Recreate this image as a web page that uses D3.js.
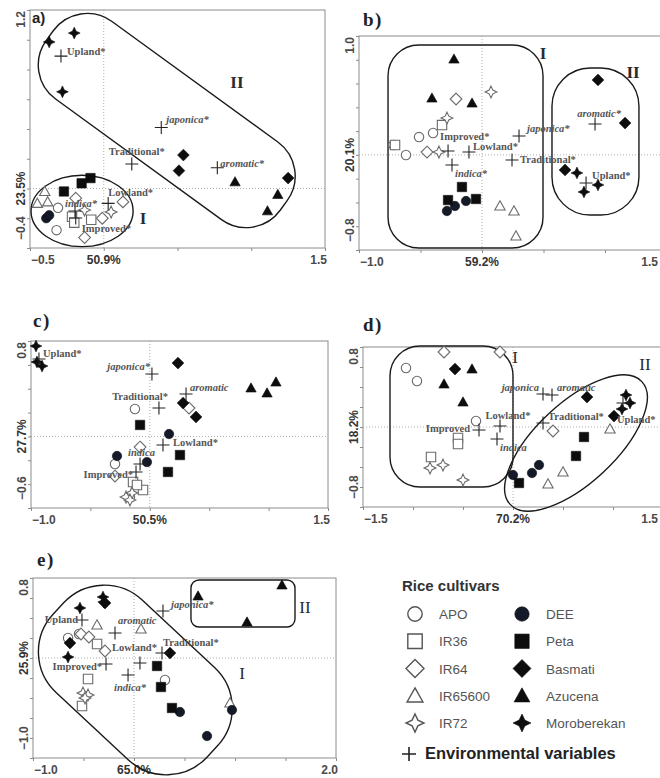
<!DOCTYPE html>
<html>
<head>
<meta charset="utf-8">
<script src="https://cdn.jsdelivr.net/npm/d3@7"></script>
<style>
  body { margin: 0; background: #fff; }
  svg { display: block; }
</style>
</head>
<body>
<svg id="fig" width="660" height="778"></svg>
<script>
// cultivars, open ones first, then the filled ones
const cultivars = ['APO', 'IR36', 'IR64', 'IR65600', 'IR72', 'DEE', 'Peta', 'Basmati', 'Azucena', 'Moroberekan'];

// ---- panel a ----
const pointsA = [
  ['APO', -0.31, -0.13], ['APO', -0.32, -0.28],
  ['IR36', -0.215, -0.19], ['IR36', -0.2, -0.23], ['IR36', -0.085, -0.21],
  ['IR64', -0.19, -0.065], ['IR64', -0.01, -0.2], ['IR64', 0.13, -0.09], ['IR64', -0.13, -0.33],
  ['IR65600', -0.40, -0.02], ['IR65600', -0.45, -0.10], ['IR65600', -0.38, -0.09],
  ['IR72', -0.13, -0.145], ['IR72', 0.05, -0.158],
  ['DEE', -0.39, -0.2], ['DEE', -0.37, -0.18],
  ['Peta', -0.27, -0.02], ['Peta', -0.15, 0.035], ['Peta', -0.09, 0.07],
  ['Basmati', 0.54, 0.225], ['Basmati', 0.51, 0.12], ['Basmati', 1.25, 0.07],
  ['Azucena', 0.89, 0.045], ['Azucena', 1.18, -0.04], ['Azucena', 1.11, -0.15],
  ['Moroberekan', -0.37, 0.985], ['Moroberekan', -0.20, 1.045], ['Moroberekan', -0.28, 0.65]
];
const envA = [
  ['Upland*', -0.29, 0.89], ['japonica*', 0.39, 0.41], ['Traditional*', 0.19, 0.165],
  ['aromatic*', 0.77, 0.14], ['Lowland*', 0.03, -0.10], ['indica*', -0.195, -0.151],
  ['Improved*', -0.19, -0.198]
];

// ---- panel b ----
const pointsB = [
  ['APO', -0.398, 0.184], ['APO', -0.512, 0.15], ['APO', -0.618, -0.001], ['APO', -0.72, 0.083],
  ['IR36', -0.325, 0.251], ['IR36', -0.707, 0.083],
  ['IR64', -0.211, 0.47], ['IR64', -0.447, 0.024],
  ['IR65600', 0.146, -0.43], ['IR65600', 0.26, -0.472], ['IR65600', 0.276, -0.682],
  ['IR72', 0.073, 0.529], ['IR72', -0.285, 0.31], ['IR72', -0.35, 0.024],
  ['DEE', -0.285, -0.472], ['DEE', -0.22, -0.43], ['DEE', -0.13, -0.388],
  ['Peta', -0.163, -0.27], ['Peta', -0.276, -0.38], ['Peta', -0.049, -0.371],
  ['Basmati', 0.943, 0.63], ['Basmati', 1.163, 0.268], ['Basmati', 0.675, -0.127],
  ['Azucena', -0.228, 0.806], ['Azucena', -0.407, 0.478], ['Azucena', -0.081, 0.436],
  ['Moroberekan', 0.772, -0.152], ['Moroberekan', 0.829, -0.312], ['Moroberekan', 0.943, -0.253]
];
const envB = [
  ['Improved*', -0.276, 0.033], ['Lowland*', -0.106, 0.024], ['japonica*', 0.301, 0.159],
  ['Traditional*', 0.244, -0.043], ['indica*', -0.244, -0.085], ['aromatic*', 0.919, 0.26],
  ['Upland*', 0.846, -0.236]
];

// ---- panel c ----
const pointsC = [
  ['APO', -0.125, 0.23], ['APO', -0.293, -0.231], ['APO', -0.167, -0.508],
  ['IR36', -0.141, -0.382], ['IR36', -0.057, -0.449], ['IR36', -0.108, -0.407],
  ['IR64', 0.33, 0.238], ['IR64', -0.082, -0.089], ['IR64', -0.293, -0.332],
  ['IR72', -0.2, -0.508], ['IR72', -0.15, -0.474], ['IR72', -0.167, -0.533],
  ['DEE', 0.162, 0.02], ['DEE', -0.276, -0.164], ['DEE', -0.024, -0.215],
  ['Peta', -0.082, 0.096], ['Peta', 0.254, -0.156], ['Peta', 0.153, -0.298],
  ['Basmati', 0.237, 0.615], ['Basmati', 0.28, 0.28], ['Basmati', 0.389, 0.163],
  ['Azucena', 0.852, 0.406], ['Azucena', 0.987, 0.364], ['Azucena', 1.062, 0.456],
  ['Moroberekan', -0.958, 0.758], ['Moroberekan', -0.95, 0.624], ['Moroberekan', -0.907, 0.59]
];
const envC = [
  ['Upland*', -0.933, 0.649], ['japonica*', 0.018, 0.523], ['aromatic', 0.305, 0.356],
  ['Traditional*', 0.077, 0.238], ['Lowland*', 0.111, -0.072], ['indica', -0.082, -0.231],
  ['Improved*', -0.116, -0.298]
];

// ---- panel d ----
const pointsD = [
  ['APO', -1.07, 0.59], ['APO', -0.96, 0.46], ['APO', -0.37, 0.06],
  ['IR36', -0.55, -0.11], ['IR36', -0.55, -0.17], ['IR36', -0.82, -0.3],
  ['IR64', -0.69, 0.75], ['IR64', -0.13, 0.75], ['IR64', 0.4, -0.04],
  ['IR65600', 0.97, -0.02], ['IR65600', 0.5, -0.45], ['IR65600', 0.35, -0.57],
  ['IR72', -0.83, -0.41], ['IR72', -0.7, -0.38], ['IR72', -0.5, -0.53],
  ['DEE', 0.0, -0.48], ['DEE', 0.19, -0.46], ['DEE', 0.26, -0.38],
  ['Peta', 0.71, -0.1], ['Peta', 0.63, -0.29], ['Peta', 0.06, -0.56],
  ['Basmati', -0.58, 0.58], ['Basmati', 0.74, 0.3], ['Basmati', 1.01, 0.11],
  ['Azucena', -0.41, 0.58], ['Azucena', -0.69, 0.43], ['Azucena', -0.5, 0.25],
  ['Moroberekan', 1.13, 0.32], ['Moroberekan', 1.17, 0.24], ['Moroberekan', 1.09, 0.18]
];
const envD = [
  ['japonica', 0.3, 0.33], ['aromatic', 0.39, 0.32], ['Lowland*', -0.13, 0.01],
  ['Improved', -0.34, -0.03], ['indica', -0.16, -0.12], ['Traditional*', 0.3, 0.04],
  ['Upland*', 1.1, 0.24]
];

// ---- panel e ----
const pointsE = [
  ['APO', -0.653, 0.2], ['APO', -0.545, 0.24], ['APO', 0.307, -0.22],
  ['IR36', -0.366, 0.14], ['IR36', -0.455, -0.21], ['IR36', -0.515, -0.48],
  ['IR64', -0.525, 0.24], ['IR64', -0.446, 0.21], ['IR64', -0.287, 0.07],
  ['IR65600', -0.366, 0.33], ['IR65600', 0.069, 0.29], ['IR65600', 0.95, -0.45],
  ['IR72', -0.505, -0.35], ['IR72', -0.455, -0.37], ['IR72', -0.485, -0.40],
  ['DEE', 0.455, -0.54], ['DEE', 0.97, -0.52], ['DEE', 0.723, -0.78],
  ['Peta', 0.228, -0.08], ['Peta', 0.267, -0.29], ['Peta', 0.376, -0.5],
  ['Basmati', -0.287, 0.55], ['Basmati', -0.634, 0.15], ['Basmati', 0.356, 0.05],
  ['Azucena', 0.634, 0.62], ['Azucena', 1.465, 0.73], ['Azucena', 1.119, 0.36],
  ['Moroberekan', -0.307, 0.61], ['Moroberekan', -0.3, 0.56], ['Moroberekan', -0.535, 0.5], ['Moroberekan', -0.653, 0.01]
];
const envE = [
  ['Upland', -0.515, 0.38], ['aromatic', -0.188, 0.25], ['japonica*', 0.287, 0.47],
  ['Traditional*', 0.277, 0.05], ['Lowland*', 0.059, -0.05], ['indica*', -0.059, -0.17],
  ['Improved*', -0.277, -0.06]
];

// axis end values and explained variance
const axisA = { x: [-0.5, 1.5], y: [-0.4, 1.2], xPct: '50.9%', yPct: '23.5%' };
const axisB = { x: [-1.0, 1.5], y: [-0.8, 1.0], xPct: '59.2%', yPct: '20.1%' };
const axisC = { x: [-1.0, 1.5], y: [-0.6, 0.8], xPct: '50.5%', yPct: '27.7%' };
const axisD = { x: [-1.5, 1.5], y: [-0.8, 0.8], xPct: '70.2%', yPct: '18.2%' };
const axisE = { x: [-1.0, 2.0], y: [-1.0, 0.8], xPct: '65.0%', yPct: '25.9%' };

// ---------- layout / styling ----------
const italicNames = ['japonica', 'indica', 'aromatic'];
const cultivarStyle = {
  APO: ['circle', false], IR36: ['square', false], IR64: ['diamond', false],
  IR65600: ['triangle', false], IR72: ['star', false],
  DEE: ['circle', true], Peta: ['square', true], Basmati: ['diamond', true],
  Azucena: ['triangle', true], Moroberekan: ['star', true]
};

// label placement per panel: dx, dy (px from the cross), anchor
const labelPos = {
  a: { 'Upland*': [6, -1, 'start'], 'japonica*': [5, -5, 'start'], 'Traditional*': [5, -9, 'middle'],
       'aromatic*': [3, -1, 'start'], 'Lowland*': [0, -7, 'start'], 'indica*': [-10, -4, 'start'],
       'Improved*': [6, 14, 'start'] },
  b: { 'Improved*': [-8, -11, 'start'], 'Lowland*': [4, -2, 'start'], 'japonica*': [8, -4, 'start'],
       'Traditional*': [8, 3, 'start'], 'indica*': [3, 12, 'start'], 'aromatic*': [4, -7, 'middle'],
       'Upland*': [6, -4, 'start'] },
  c: { 'Upland*': [4, -2, 'start'], 'japonica*': [-2, -4, 'end'], 'aromatic': [4, -3, 'start'],
       'Traditional*': [9, -8, 'end'], 'Lowland*': [10, 1, 'start'], 'indica': [-12, -8, 'start'],
       'Improved*': [-3, 6, 'end'] },
  d: { 'japonica': [-4, -3, 'end'], 'aromatic': [5, -4, 'start'], 'Lowland*': [8, -7, 'middle'],
       'Improved': [-9, 2, 'end'], 'indica': [3, 12, 'start'], 'Traditional*': [5, -3, 'start'],
       'Upland*': [-6, 20, 'start'] },
  e: { 'Upland': [-4, 3, 'end'], 'aromatic': [3, -9, 'start'], 'japonica*': [8, -3, 'start'],
       'Traditional*': [1, -7, 'start'], 'Lowland*': [17, -12, 'end'], 'indica*': [2, 16, 'middle'],
       'Improved*': [-4, 6, 'end'] }
};

// enclosing groups (data units; sizes scaled with the x scale)
const regions = {
  a: [
    { type: 'ellipse', cx: -0.147, cy: -0.151, rx: 0.346, ry: 0.242, angle: 0 },
    { type: 'capsule', cx: 0.427, cy: 0.457, len: 1.96, wid: 0.65, r: 0.285, angle: 36 }
  ],
  b: [
    { type: 'rect', x0: -0.764, x1: 0.496, y0: -0.783, y1: 0.924, r: 0.25 },
    { type: 'rect', x0: 0.569, x1: 1.276, y0: -0.506, y1: 0.731, r: 0.31 }
  ],
  c: [],
  d: [
    { type: 'rect', x0: -1.23, x1: 0.0, y0: -0.6, y1: 0.81, r: 0.3 },
    { type: 'ellipse', cx: 0.63, cy: -0.16, rx: 0.9, ry: 0.4, angle: -43 }
  ],
  e: [
    { type: 'capsule', cx: 0.013, cy: -0.22, len: 2.08, wid: 1.25, r: 0.55, angle: 43 },
    { type: 'rect', x0: 0.564, x1: 1.594, y0: 0.31, y1: 0.78, r: 0.08 }
  ]
};
const regionLabels = {
  a: [['I', 0.266, -0.2], ['II', 0.903, 0.716]],
  b: [['I', 0.496, 0.857], ['II', 1.228, 0.697]],
  c: [],
  d: [['I', 0.02, 0.7], ['II', 1.32, 0.63]],
  e: [['I', 1.07, -0.15], ['II', 1.693, 0.51]]
};

const svg = d3.select('#fig');
svg.append('rect').attr('width', 660).attr('height', 778).attr('fill', '#fff');

function symbolPath(type, s) {
  if (type === 'circle') return d3.symbol(d3.symbolCircle, Math.PI * s * s)();
  if (type === 'square') return `M${-s},${-s}H${s}V${s}H${-s}Z`;
  if (type === 'diamond') { const d = s * 1.25; return `M0,${-d}L${d},0L0,${d}L${-d},0Z`; }
  if (type === 'triangle') { const w = s * 1.1; return `M0,${-w}L${w},${w * 0.78}L${-w},${w * 0.78}Z`; }
  // four pointed star
  const t = s * 1.25, k = s * 0.4;
  return `M0,${-t}L${k},${-k}L${t},0L${k},${k}L0,${t}L${-k},${k}L${-t},0L${-k},${-k}Z`;
}

function drawPanel(key, box, axis, pts, env, tag, opts) {
  const x = d3.scaleLinear().domain(axis.x).range([box.l, box.r]);
  const y = d3.scaleLinear().domain(axis.y).range([box.b, box.t]);
  const kx = Math.abs(x(1) - x(0));
  const g = svg.append('g');

  // frame + ticks
  g.append('rect').attr('x', box.l).attr('y', box.t)
    .attr('width', box.r - box.l).attr('height', box.b - box.t)
    .attr('fill', 'none').attr('stroke', '#8c8c8c').attr('stroke-width', 1);

  const xt = d3.range(Math.ceil(axis.x[0] / 0.5) * 0.5, axis.x[1] + 1e-9, 0.5);
  const yt = d3.range(Math.ceil(axis.y[0] / 0.2 - 1e-9) * 0.2, axis.y[1] + 1e-9, 0.2);
  g.append('g').attr('transform', `translate(0,${box.b})`)
    .call(d3.axisBottom(x).tickValues(xt).tickSize(3).tickSizeOuter(0).tickFormat(''))
    .call(s => s.select('.domain').remove())
    .call(s => s.selectAll('line').attr('stroke', '#8c8c8c'));
  g.append('g').attr('transform', `translate(${box.l},0)`)
    .call(d3.axisLeft(y).tickValues(yt).tickSize(3).tickSizeOuter(0).tickFormat(''))
    .call(s => s.select('.domain').remove())
    .call(s => s.selectAll('line').attr('stroke', '#8c8c8c'));

  // zero lines
  g.append('line').attr('x1', x(0)).attr('x2', x(0)).attr('y1', box.t).attr('y2', box.b)
    .attr('stroke', '#9a9a9a').attr('stroke-width', 0.8).attr('stroke-dasharray', '1,2');
  g.append('line').attr('x1', box.l).attr('x2', box.r).attr('y1', y(0)).attr('y2', y(0))
    .attr('stroke', '#9a9a9a').attr('stroke-width', 0.8).attr('stroke-dasharray', '1,2');

  // axis end labels
  const numFont = { 'font-family': 'Liberation Sans, Arial, sans-serif', 'font-weight': 'bold', 'font-size': '12px', 'fill': '#4a4a4a' };
  const fmt = d3.format('.1f');
  const tx = (sel, attrs) => { Object.entries(attrs).forEach(([k, v]) => sel.attr(k, v)); return sel; };
  tx(g.append('text').attr('x', box.l + 1).attr('y', box.b + 16).attr('text-anchor', 'start').text(fmt(axis.x[0])), numFont);
  tx(g.append('text').attr('x', Math.min(box.r + 2, 658)).attr('y', box.b + 16).attr('text-anchor', 'end').text(fmt(axis.x[1])), numFont);
  tx(g.append('text').attr('x', x(0)).attr('y', box.b + 16).attr('text-anchor', 'middle').text(axis.xPct), numFont).attr('fill', '#333');
  const yl = (val, pos, anchor) => tx(g.append('text')
    .attr('transform', `translate(${box.l - 5},${pos}) rotate(-90)`)
    .attr('text-anchor', anchor).text(val), numFont);
  yl(fmt(axis.y[0]), box.b - 8, 'start');
  yl(fmt(axis.y[1]), box.t + 1, 'end');
  yl(axis.yPct, y(0), 'middle').attr('fill', '#333');

  // group outlines
  regions[key].forEach(r => {
    if (r.type === 'ellipse') {
      g.append('ellipse').attr('transform', `translate(${x(r.cx)},${y(r.cy)}) rotate(${r.angle})`)
        .attr('rx', r.rx * kx).attr('ry', r.ry * kx)
        .attr('fill', 'none').attr('stroke', '#1a1a1a').attr('stroke-width', 1.4);
    } else if (r.type === 'capsule') {
      const L = r.len * kx, W = r.wid * kx;
      g.append('rect').attr('transform', `translate(${x(r.cx)},${y(r.cy)}) rotate(${r.angle})`)
        .attr('x', -L / 2).attr('y', -W / 2).attr('width', L).attr('height', W)
        .attr('rx', r.r * kx).attr('ry', r.r * kx)
        .attr('fill', 'none').attr('stroke', '#1a1a1a').attr('stroke-width', 1.4);
    } else {
      g.append('rect').attr('x', x(r.x0)).attr('y', y(r.y1))
        .attr('width', x(r.x1) - x(r.x0)).attr('height', y(r.y0) - y(r.y1))
        .attr('rx', r.r * kx).attr('ry', r.r * kx)
        .attr('fill', 'none').attr('stroke', '#1a1a1a').attr('stroke-width', 1.4);
    }
  });
  regionLabels[key].forEach(([t, lx, ly]) => {
    g.append('text').attr('x', x(lx)).attr('y', y(ly)).attr('dy', '0.35em')
      .attr('text-anchor', 'middle')
      .attr('font-family', 'Liberation Serif, Times New Roman, serif')
      .attr('font-weight', opts.boldRegion ? 'bold' : 'normal')
      .attr('font-size', '17px').attr('fill', '#2a2a2a').text(t);
  });

  // cultivar points
  const ordered = cultivars.flatMap(c => pts.filter(p => p[0] === c));
  g.selectAll('path.pt').data(ordered).enter().append('path')
    .attr('class', 'pt')
    .attr('transform', d => `translate(${x(d[1])},${y(d[2])})`)
    .attr('d', d => symbolPath(cultivarStyle[d[0]][0], 4.7))
    .attr('fill', d => cultivarStyle[d[0]][1] ? (d[0] === 'DEE' ? '#141a2a' : '#0d0d0d') : '#fff')
    .attr('stroke', d => cultivarStyle[d[0]][1] ? '#0d0d0d' : '#6a6a6a')
    .attr('stroke-width', d => cultivarStyle[d[0]][1] ? 0.6 : 1.1);

  // environmental variables
  const eg = g.selectAll('g.env').data(env).enter().append('g')
    .attr('transform', d => `translate(${x(d[1])},${y(d[2])})`);
  eg.append('path').attr('d', 'M-6.5,0H6.5M0,-6.5V6.5')
    .attr('stroke', '#222').attr('stroke-width', 1.1);
  eg.append('text')
    .attr('x', d => labelPos[key][d[0]][0])
    .attr('y', d => labelPos[key][d[0]][1])
    .attr('text-anchor', d => labelPos[key][d[0]][2])
    .attr('font-family', 'Liberation Serif, Times New Roman, serif')
    .attr('font-weight', 'bold')
    .attr('font-style', d => italicNames.includes(d[0].replace('*', '')) ? 'italic' : 'normal')
    .attr('font-size', '10.5px').attr('fill', '#555')
    .text(d => d[0]);

  // panel tag
  svg.append('text').attr('x', opts.tagX).attr('y', opts.tagY)
    .attr('font-family', opts.tagSans ? 'Liberation Sans, Arial, sans-serif' : 'Liberation Serif, Times New Roman, serif')
    .attr('font-weight', 'bold').attr('font-size', opts.tagSans ? '15px' : '19px')
    .attr('letter-spacing', opts.tagSans ? 0 : 1.5)
    .attr('fill', '#222').text(tag);
}

drawPanel('a', { l: 30, r: 325, t: 10, b: 248 }, axisA, pointsA, envA, 'a)', { boldRegion: true, tagX: 32, tagY: 23, tagSans: true });
drawPanel('b', { l: 359, r: 666.5, t: 36, b: 250 }, axisB, pointsB, envB, 'b)', { boldRegion: true, tagX: 363, tagY: 26 });
drawPanel('c', { l: 31, r: 328, t: 341, b: 508 }, axisC, pointsC, envC, 'c)', { boldRegion: true, tagX: 33, tagY: 327 });
drawPanel('d', { l: 363, r: 663, t: 347, b: 507 }, axisD, pointsD, envD, 'd)', { boldRegion: false, tagX: 363, tagY: 331 });
drawPanel('e', { l: 33, r: 336, t: 578, b: 758 }, axisE, pointsE, envE, 'e)', { boldRegion: false, tagX: 37, tagY: 566 });

// ---------- legend ----------
const leg = svg.append('g');
leg.append('text').attr('x', 402).attr('y', 591)
  .attr('font-family', 'Liberation Sans, Arial, sans-serif').attr('font-weight', 'bold')
  .attr('font-size', '15px').attr('fill', '#333').text('Rice cultivars');
const legRow = d3.scaleLinear().domain([0, 4]).range([614, 723]);
cultivars.forEach((c, i) => {
  const col = i < 5 ? 0 : 1, row = i % 5;
  const sx = col ? 522 : 415, cy = legRow(row);
  const [shape, filled] = cultivarStyle[c];
  leg.append('path').attr('transform', `translate(${sx},${cy})`)
    .attr('d', symbolPath(shape, 7.2))
    .attr('fill', filled ? (c === 'DEE' ? '#141a2a' : '#0d0d0d') : '#fff')
    .attr('stroke', filled ? '#0d0d0d' : '#555').attr('stroke-width', filled ? 0.6 : 1.4);
  leg.append('text').attr('x', sx + 24).attr('y', cy + 5)
    .attr('font-family', 'Liberation Sans, Arial, sans-serif')
    .attr('font-size', '13.5px').attr('fill', '#555').text(c);
});
leg.append('path').attr('d', 'M402,754H416M409,747V761').attr('stroke', '#222').attr('stroke-width', 1.6);
leg.append('text').attr('x', 425).attr('y', 759)
  .attr('font-family', 'Liberation Sans, Arial, sans-serif').attr('font-weight', 'bold')
  .attr('font-size', '16.5px').attr('fill', '#222').text('Environmental variables');
</script>
</body>
</html>
